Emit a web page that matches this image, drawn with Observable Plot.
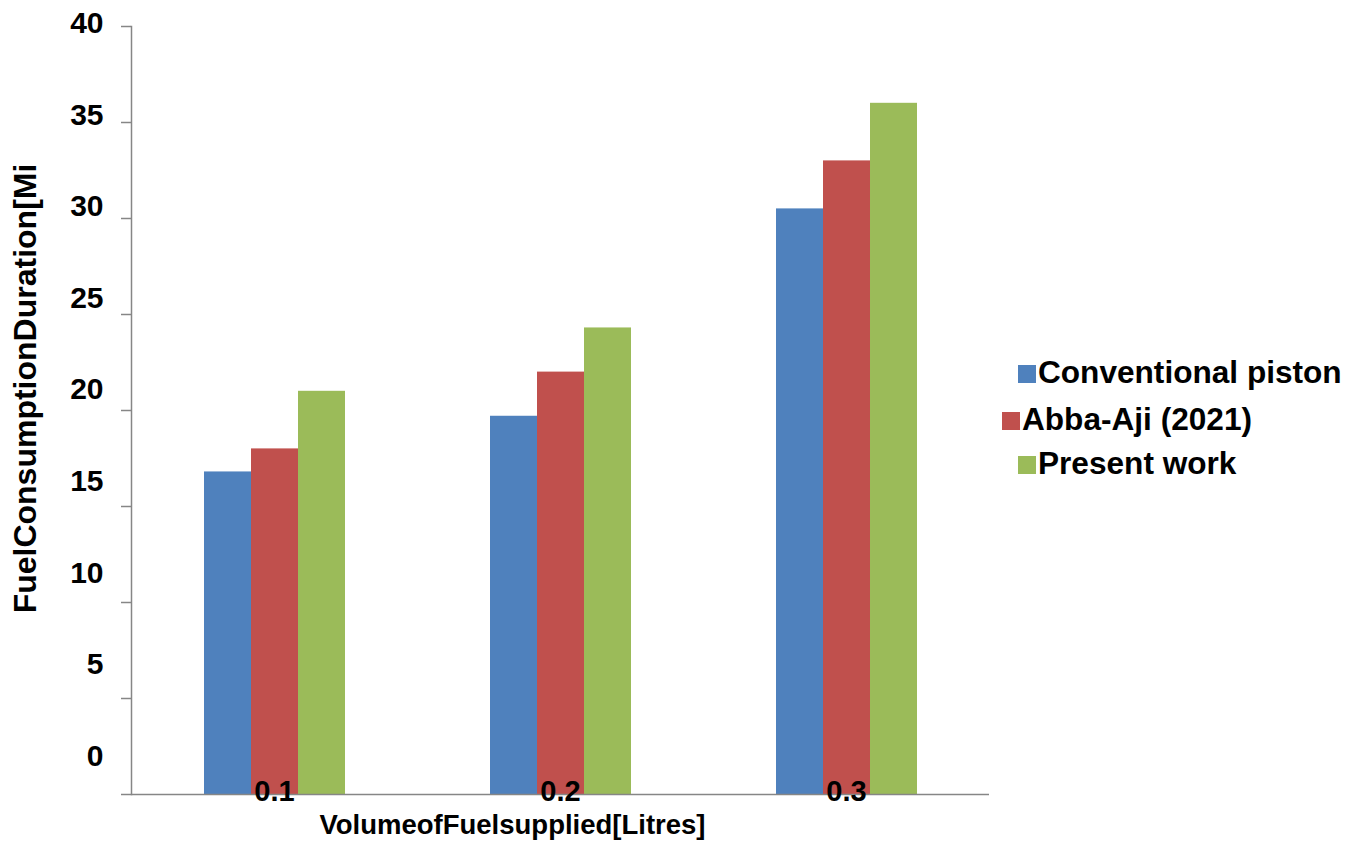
<!DOCTYPE html>
<html>
<head>
<meta charset="utf-8">
<script src="https://cdn.jsdelivr.net/npm/d3@7"></script>
<script src="https://cdn.jsdelivr.net/npm/@observablehq/plot@0.6"></script>
<style>
  html, body { margin: 0; padding: 0; background: #fff; }
  #wrap { position: relative; width: 1362px; height: 848px; font-family: "Liberation Sans", Arial, sans-serif; }
  .leg { position: absolute; font-weight: bold; font-size: 31.6px; line-height: 31px; white-space: nowrap; color: #000; }
  .sw { display: inline-block; width: 18px; height: 18px; margin-right: 2px; }
</style>
</head>
<body>
<div id="wrap"></div>
<script>
const categories = ["0.1", "0.2", "0.3"];
const seriesNames = ["Conventional piston", "Abba-Aji (2021)", "Present work"];
const conventional = [16.8, 19.7, 30.5];
const abbaAji = [18.0, 22.0, 33.0];
const presentWork = [21.0, 24.3, 36.0];
const yTicks = [0, 5, 10, 15, 20, 25, 30, 35, 40];
const colors = ["#4F81BD", "#C0504D", "#9BBB59"];
const yTitle = "FuelConsumptionDuration[Mi";
const xTitle = "VolumeofFuelsupplied[Litres]";

const seriesValues = [conventional, abbaAji, presentWork];
const data = [];
categories.forEach((c, i) => {
  seriesNames.forEach((s, j) => data.push({volume: c, series: s, value: seriesValues[j][i]}));
});

const gray = "#868686";

const chart = Plot.plot({
  width: 1362,
  height: 848,
  marginLeft: 130,
  marginRight: 372,
  marginTop: 26,
  marginBottom: 54,
  style: {fontFamily: "'Liberation Sans', Arial, sans-serif", background: "white", color: "black"},
  fx: {domain: categories, padding: 0, label: null, axis: null},
  x: {domain: seriesNames, paddingInner: 0, paddingOuter: 1.505, axis: null},
  y: {domain: [0, 40], axis: null},
  color: {domain: seriesNames, range: colors},
  marks: [
    Plot.barY(data, {fx: "volume", x: "series", y: "value", fill: "series"}),
    Plot.ruleY([0], {stroke: gray, strokeWidth: 1.5}),
    Plot.frame({anchor: "left", facetAnchor: "left", stroke: gray, strokeWidth: 1.5}),
    Plot.axisY({ticks: yTicks, tickSize: 10, tickFormat: () => "", stroke: gray, strokeWidth: 1.5, label: null}),
    Plot.text(yTicks, {y: d => 2 + d * 0.954, text: d => `${d}`, frameAnchor: "left", textAnchor: "end", lineAnchor: "middle", dx: -28, fontSize: 30, fontWeight: "bold", facetAnchor: "left"}),
    Plot.axisFx({anchor: "bottom", tickSize: 0, label: null, fontSize: 29, fontWeight: "bold", dy: -23}),
    Plot.text([yTitle], {frameAnchor: "left", rotate: -90, lineAnchor: "middle", textAnchor: "middle", dx: -105.5, dy: -22, fontSize: 32, fontWeight: "bold", facetAnchor: "left"}),
    Plot.text([{fx: "0.2", t: xTitle}], {fx: "fx", text: "t", frameAnchor: "bottom", lineAnchor: "middle", dx: -48, dy: 31, fontSize: 27.5, fontWeight: "bold"})
  ]
});

const wrap = document.getElementById("wrap");
wrap.appendChild(chart);

const legendPos = [
  {left: 1018, top: 357},
  {left: 1002, top: 404},
  {left: 1018, top: 448}
];
seriesNames.forEach((s, i) => {
  const d = document.createElement("div");
  d.className = "leg";
  d.style.left = legendPos[i].left + "px";
  d.style.top = legendPos[i].top + "px";
  const sw = document.createElement("span");
  sw.className = "sw";
  sw.style.background = colors[i];
  d.appendChild(sw);
  d.appendChild(document.createTextNode(s));
  wrap.appendChild(d);
});
</script>
</body>
</html>
